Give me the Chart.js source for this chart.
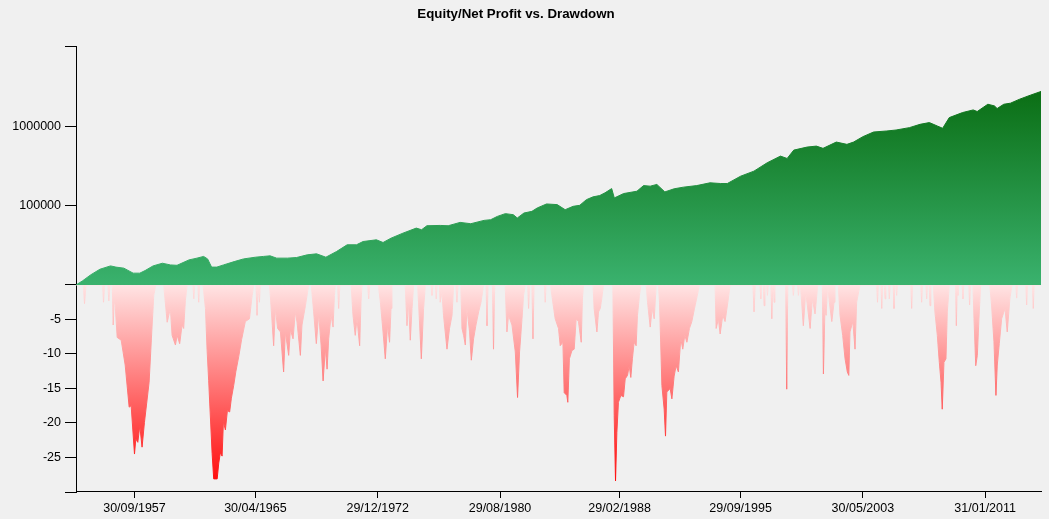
<!DOCTYPE html>
<html>
<head>
<meta charset="utf-8">
<title>Equity/Net Profit vs. Drawdown</title>
<script src="https://cdn.jsdelivr.net/npm/chart.js@4.4.1/dist/chart.umd.min.js"></script>
<style>
  html, body { margin: 0; padding: 0; background: #f0f0f0; }
  #wrap { width: 1049px; height: 519px; }
</style>
</head>
<body>
<div id="wrap"><canvas id="equityChart"></canvas></div>
<script>
// x = months counted from Jan 1954 (0 = Jan 1954)
const lastMonth = 726;

// equity / net profit curve: [month, equity]
const equity = [
  [0, 10000], [5, 11300], [11, 13400], [18, 15800], [26, 17400], [30, 16800], [36, 16300],
  [43, 14100], [48, 14100], [52, 15200], [58, 17400], [65, 18800], [71, 17900], [76, 17700],
  [85, 20700], [91, 21800], [96, 22900], [99, 21300], [102, 16800], [106, 16800], [111, 17900],
  [119, 19700], [126, 21300], [135, 22400], [141, 22900], [146, 23300], [151, 21800], [159, 21800],
  [166, 22200], [174, 24000], [181, 24700], [188, 22400], [196, 26400], [204, 32100], [211, 32100],
  [216, 35300], [226, 37100], [231, 34300], [237, 38900], [246, 45000], [256, 52100], [260, 49700],
  [264, 55800], [274, 56300], [280, 55800], [289, 61500], [297, 59200], [307, 65200], [312, 66500],
  [317, 73200], [323, 79300], [329, 76900], [332, 69800], [337, 80700], [343, 84700], [347, 93500],
  [354, 105000], [362, 103000], [368, 88900], [374, 98000], [379, 101000], [384, 119000], [389, 129000],
  [394, 134000], [398, 145000], [403, 164000], [405, 125000], [412, 142000], [422, 152000], [427, 179000],
  [432, 176000], [437, 185000], [443, 149000], [450, 163000], [457, 171000], [467, 179000], [477, 194000],
  [485, 190000], [490, 190000], [500, 235000], [510, 272000], [520, 347000], [530, 421000], [535, 393000],
  [540, 501000], [550, 547000], [557, 563000], [562, 527000], [572, 633000], [580, 592000], [585, 633000],
  [592, 740000], [600, 847000], [610, 873000], [617, 898000], [627, 962000], [635, 1059000], [642, 1114000],
  [648, 1009000], [652, 944000], [657, 1288000], [667, 1490000], [675, 1608000], [678, 1535000],
  [686, 1897000], [691, 1807000], [693, 1675000], [698, 1897000], [703, 1955000], [710, 2198000],
  [718, 2466000], [726, 2749000]
];

// drawdown in percent: [month, drawdown]
const drawdown = [
  [0, 0], [5.5, 0], [6.4, -2.7], [7.5, 0], [20, 0], [20.7, -2.5], [21.5, 0], [24, 0], [24.7, -2.3], [25.5, 0],
  [27.3, 0], [28, -5.8], [28.8, -2],
  [29.5, -3], [31, -7.6], [34, -8], [37, -11.6], [40, -17.7], [41.5, -17.5], [44, -24.5], [45, -22.3],
  [46.5, -22.8], [48, -20.4], [49.7, -23.5], [51.5, -19.9], [55, -14.1], [57, -6.8], [58.5, -1.5], [60, 0],
  [66, 0], [68.6, -5.4], [71, -3.4], [72.3, -7.3], [74.8, -8.7], [76.1, -7.3], [78, -8.5], [79.8, -5.8],
  [81, -6.3], [82.3, -2.2], [83.6, 0],
  [88, 0], [88.6, -2], [89.3, 0], [91.7, 0], [92.3, -2.5], [93, 0],
  [95.6, 0], [97.4, -3.4], [98.6, -9.3], [99.8, -13.8], [102.4, -24.4], [103.6, -28.1], [106.2, -28.1],
  [107.4, -25.8], [108.6, -24.3], [109.9, -24.8], [110.9, -19.8], [112.4, -21], [113.9, -18.2],
  [115.6, -18.4], [116.9, -16.4], [118.6, -14.6], [120.3, -12.5], [122.4, -10.4], [124.6, -7.9],
  [127.4, -5.3], [130.5, -4.9], [132.5, -1.5], [133.7, 0],
  [135.4, 0], [136.2, -4.4], [137, 0], [137.5, 0], [138, -2.5], [138.6, 0],
  [145.5, 0], [146.2, -1.5], [148.7, -8.8], [150, -3.4], [151.7, -6.3], [153.8, -6.8], [156.2, -12.6],
  [157.5, -6.8], [160, -10.2], [161.3, -6.5], [163.3, -7.8], [165, -3.9], [166.3, -5.4], [168.8, -10.2],
  [170, -5.8], [172.6, -3], [175, 0],
  [177, 0], [178.8, -3.9], [180.8, -8.5], [182.6, -4.2], [184.4, -8.7], [185.9, -13.9], [187.6, -9.2],
  [188.9, -12.2], [190.1, -7.8], [191.9, -4.4], [193.4, -6.1], [194.4, -1.5], [195.1, 0],
  [196.8, 0], [197.6, -3.4], [198.5, 0],
  [207, 0], [208.4, -4.4], [210.1, -7.3], [211.4, -4.9], [213.4, -8.8], [214.4, -2.5], [215.2, 0],
  [219.4, 0], [220.2, -2], [221, 0],
  [227.5, 0], [229, -2.5], [231, -6.8], [232.7, -10.7], [234.4, -5.8], [235.9, -8.3], [237, -3.4], [237.7, 0],
  [247.7, 0], [249, -5.9], [250.2, -2.5], [251.5, -8], [252.8, -3.4], [254, 0],
  [257, 0], [257.7, -2.5], [259.8, -10.7], [261.5, -3.4], [262.8, 0],
  [267.2, 0], [267.8, -1.5], [268.5, 0], [270.4, 0], [271, -2], [271.6, 0], [273.4, 0], [274, -2.5],
  [275.3, -1], [276.5, -4.4], [279.1, -9.3], [281, -6.3], [282.9, -4.4], [284.1, 0],
  [285.8, 0], [286.6, -2.5], [287.4, 0],
  [289.5, 0], [290.4, -6.3], [291.6, -7.3], [292.9, -8.7], [294.1, -3.4], [296.1, -6.8], [297.4, -10.9],
  [299.1, -7.8], [300.9, -5.8], [302.9, -3.9], [304.7, -2.5], [306.6, 0],
  [308.5, 0], [309.2, -5.9], [310, 0], [313.3, 0], [314.1, -9.3], [315, 0],
  [322.9, 0], [324.2, -6.8], [325.4, -4.4], [328, -5.8], [330.5, -9.7], [332.2, -16.3], [333.7, -9.7],
  [335.5, -5], [336.7, -1.5], [338, 0],
  [339.8, 0], [340.5, -3.4], [341.3, 0], [343, 0], [343.8, -7.8], [344.6, 0], [352.4, 0], [353, -2.5], [353.6, 0],
  [357, 0], [358, -1.5], [360.5, -4.9], [363, -6.3], [364.3, -8.8], [366.3, -8.3], [367.3, -15.6],
  [369.3, -16], [370, -17], [371.2, -10.7], [373.1, -9.5], [374.8, -9.3], [376.3, -4.9], [378, -5.3],
  [380.1, -8.3], [381, -1.9], [381.8, 0],
  [389, 0], [389.8, -3.4], [391.9, -6.8], [393.1, -3.9], [394.4, -3.4], [395.6, -1.9], [396.8, 0],
  [403.9, 0], [404.9, -18.9], [405.9, -28.4], [406.9, -21.4], [408.1, -17], [409.9, -16], [411.9, -16.2],
  [413.2, -13.6], [414.9, -13.1], [416.2, -11.7], [417.4, -13.4], [418.6, -10.7], [419.9, -8.3],
  [421.4, -8.8], [422.4, -4.4], [423.9, -1.5], [425, 0],
  [429, 0], [430, -2.5], [432, -6.1], [433.5, -3.4], [435, -4.9], [436.5, 0],
  [438.2, 0], [439, -2.5], [440.8, -14.6], [442.5, -18], [443.5, -21.9], [444.5, -15.5], [447, -15],
  [448.3, -16.5], [450, -13.2], [451.5, -11.7], [453.2, -12.6], [455, -7.8], [456.5, -9.3], [458, -7.3],
  [459.6, -8.3], [461.5, -6.3], [463.3, -5.3], [465.3, -3.4], [467, -1.9], [469, 0],
  [480.8, 0], [481.6, -6.3], [483.3, -4.9], [484.6, -7.1], [486.6, -4.4], [488.3, -5.3], [490.4, -2.5], [492.1, 0],
  [509.3, 0], [510.1, -3.9], [511, 0], [514.6, 0], [515.2, -2], [515.8, 0], [517.1, 0], [517.7, -3], [518.3, 0],
  [519.6, 0], [520.2, -1.5], [520.8, 0], [522.8, 0], [523.5, -4.9], [524.2, 0], [524.6, 0], [525.2, -2.5], [525.8, 0],
  [533.9, 0], [534.7, -15.1], [535.5, 0],
  [539, 0], [539.7, -1.5], [540.4, 0], [542.8, 0], [543.5, -1.5], [544.2, 0],
  [545, 0], [547.2, -5.9], [549, -1], [552.3, -6.3], [554, -2], [556, -4.2], [558, 0],
  [561.5, 0], [562.3, -12.9], [563.5, -3], [564.3, -4.4], [565.5, 0], [566.8, -2.5], [568.6, -5.3],
  [570.3, -2.5], [571, 0],
  [573.5, 0], [574.8, -4.4], [576.8, -7.3], [578.6, -10.7], [580.3, -12.6], [581.4, -13.1], [582.3, -6.8],
  [584.4, -5.3], [586.1, -9.3], [587.3, -2.5], [589.8, 0],
  [602.4, 0], [603, -2.5], [603.6, 0], [605.6, 0], [606.2, -3.4], [606.8, 0], [608.1, 0], [608.7, -2], [609.3, 0],
  [611.3, 0], [611.9, -2], [612.5, 0], [614.8, 0], [615.4, -3.4], [616, 0], [616.8, 0], [617.4, -1.5], [618, 0],
  [628.1, 0], [628.7, -3.4], [629.3, 0], [635.6, 0], [636.2, -2.5], [636.8, 0], [639.4, 0], [640, -2], [640.6, 0],
  [641.9, 0], [642.5, -3], [643.1, 0],
  [645, 0], [646.2, -3.9], [648, -7.3], [649.5, -11.2], [650.8, -14.1], [651.7, -18], [653, -11.2],
  [654.5, -10.7], [655.5, -3.9], [657, 0],
  [661.7, 0], [662.3, -5.9], [663, 0], [663.5, -1.5], [664, 0], [666.7, 0], [667.3, -2], [667.9, 0],
  [671.7, 0], [672.3, -2.9], [672.9, 0],
  [674.8, 0], [675.6, -4.9], [676.9, -11.7], [678.1, -10.2], [679.3, -4.9], [680.6, 0],
  [687.5, 0], [688.8, -2.9], [690.6, -8.2], [692.1, -16], [693.1, -11.6], [694.6, -8.5], [696.4, -4.9],
  [698.9, -3.4], [700.6, -6.8], [702.6, -1.9], [704.2, 0],
  [707.1, 0], [707.7, -1.9], [708.3, 0], [714.6, 0], [715.2, -2.9], [715.8, 0], [719.6, 0], [720.2, -3.4],
  [720.8, 0], [726, 0]
];

// axis ticks
const xTickMonths = [44, 135, 227, 319, 409, 500, 592, 684];
const xTickLabels = ["30/09/1957", "30/04/1965", "29/12/1972", "29/08/1980", "29/02/1988", "29/09/1995", "30/05/2003", "31/01/2011"];
const equityTicks = [10000, 100000, 1000000, 10000000];
const equityTickLabels = ["", "100000", "1000000", ""];
const drawdownTicks = [0, -5, -10, -15, -20, -25, -30];
const drawdownTickLabels = ["", "-5", "-10", "-15", "-20", "-25", ""];

document.addEventListener("DOMContentLoaded", function () {
  Chart.defaults.font.family = "'Liberation Sans', Arial, sans-serif";
  Chart.defaults.font.size = 12.5;
  Chart.defaults.color = "#000";

  // gradient over the height of the axis the dataset belongs to
  function axisGradient(axisId, topColor, bottomColor) {
    return function (context) {
      const chart = context.chart;
      const scale = chart.scales[axisId];
      if (!chart.chartArea || !scale) return bottomColor;
      const g = chart.ctx.createLinearGradient(0, scale.top, 0, scale.bottom);
      g.addColorStop(0, topColor);
      g.addColorStop(1, bottomColor);
      return g;
    };
  }

  const green = axisGradient("yEq", "rgb(0,95,0)", "rgb(58,178,110)");
  const red = axisGradient("yDD", "rgb(255,228,228)", "rgb(255,0,0)");

  function fixedTicks(values) {
    return function (scale) {
      scale.ticks = values.map(v => ({ value: v }));
    };
  }

  function labelFrom(values, labels) {
    return function (value) {
      const i = values.indexOf(value);
      return i < 0 ? "" : labels[i];
    };
  }

  const axisGrid = { drawOnChartArea: false, color: "#000", lineWidth: 1 };

  const ctx = document.getElementById("equityChart").getContext("2d");
  new Chart(ctx, {
    type: "line",
    data: {
      datasets: [
        {
          label: "Equity",
          data: equity.map(p => ({ x: p[0], y: p[1] })),
          yAxisID: "yEq",
          fill: "start",
          backgroundColor: green,
          borderColor: green,
          borderWidth: 1,
          pointRadius: 0,
          tension: 0
        },
        {
          label: "Drawdown",
          data: drawdown.map(p => ({ x: p[0], y: p[1] })),
          yAxisID: "yDD",
          fill: "origin",
          backgroundColor: red,
          borderColor: red,
          borderWidth: 1,
          pointRadius: 0,
          tension: 0
        }
      ]
    },
    options: {
      responsive: true,
      maintainAspectRatio: false,
      animation: false,
      // negative left padding keeps the title centred where the original has it
      layout: { padding: { left: -9, right: 8, top: 0, bottom: 0 } },
      plugins: {
        legend: { display: false },
        tooltip: { enabled: false },
        title: {
          display: true,
          text: "Equity/Net Profit vs. Drawdown",
          color: "#000",
          font: { size: 13.3, weight: "bold" },
          padding: { top: 6, bottom: 25 }
        }
      },
      scales: {
        x: {
          type: "linear",
          min: 0,
          max: lastMonth,
          afterBuildTicks: fixedTicks(xTickMonths),
          afterFit: s => { s.height = 27; },
          ticks: { autoSkip: false, maxRotation: 0, padding: 3, callback: labelFrom(xTickMonths, xTickLabels) },
          grid: Object.assign({ tickLength: 6 }, axisGrid),
          border: { color: "#000" }
        },
        yEq: {
          type: "logarithmic",
          position: "left",
          stack: "y",
          stackWeight: 238,
          weight: 2,
          min: 10000,
          max: 10000000,
          afterBuildTicks: fixedTicks(equityTicks),
          afterFit: s => { s.width = 85; },
          ticks: { autoSkip: false, padding: 4, callback: labelFrom(equityTicks, equityTickLabels) },
          grid: Object.assign({ tickLength: 11 }, axisGrid),
          border: { color: "#000" }
        },
        yDD: {
          type: "linear",
          position: "left",
          stack: "y",
          stackWeight: 207,
          weight: 1,
          min: -30,
          max: 0,
          afterBuildTicks: fixedTicks(drawdownTicks),
          afterFit: s => { s.width = 85; },
          ticks: { autoSkip: false, padding: 4, callback: labelFrom(drawdownTicks, drawdownTickLabels) },
          grid: Object.assign({ tickLength: 11 }, axisGrid),
          border: { color: "#000" }
        }
      }
    }
  });
});
</script>
</body>
</html>
